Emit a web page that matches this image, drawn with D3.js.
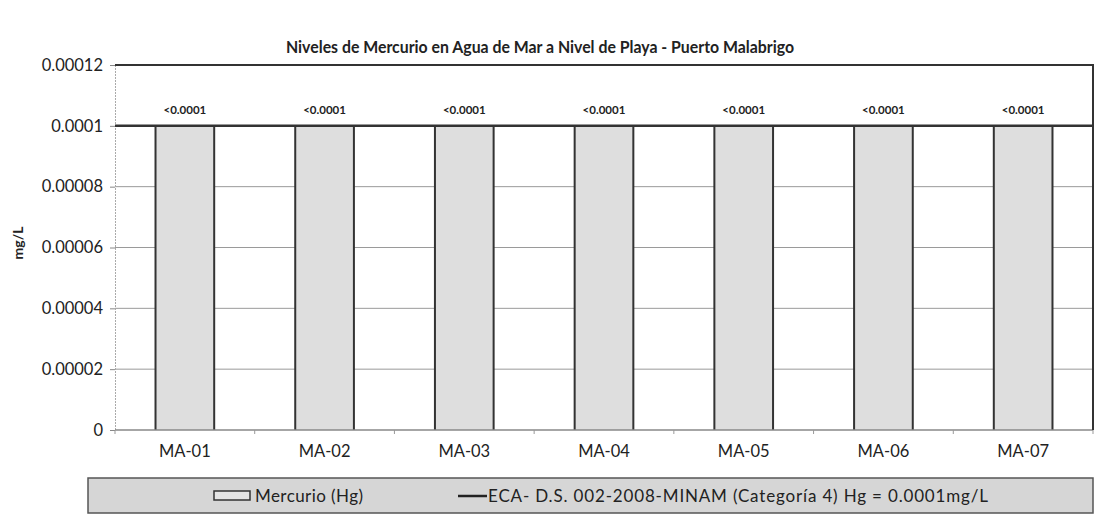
<!DOCTYPE html>
<html><head><meta charset="utf-8">
<script src="https://cdn.jsdelivr.net/npm/d3@7"></script>
<style>body{margin:0;background:#fff}svg{display:block}text{font-family:Lato,"Open Sans",sans-serif}</style>
</head><body><svg id="c" width="1098" height="515"></svg>
<script>
const categories = ["MA-01","MA-02","MA-03","MA-04","MA-05","MA-06","MA-07"];
const mercurio = [0.0001,0.0001,0.0001,0.0001,0.0001,0.0001,0.0001];
const valueLabels = ["<0.0001","<0.0001","<0.0001","<0.0001","<0.0001","<0.0001","<0.0001"];
const eca = [0.0001,0.0001,0.0001,0.0001,0.0001,0.0001,0.0001];
const yTicks = [0,0.00002,0.00004,0.00006,0.00008,0.0001,0.00012];
const yTickLabels = ["0","0.00002","0.00004","0.00006","0.00008","0.0001","0.00012"];
const title = "Niveles de Mercurio en Agua de Mar a Nivel de Playa - Puerto Malabrigo";
const seriesNames = ["Mercurio (Hg)","ECA- D.S. 002-2008-MINAM (Categoría 4) Hg = 0.0001mg/L"];

const svg = d3.select("#c");
const m = {l:115, r:1093, t:65, b:430};
const x = d3.scaleBand().domain(categories).range([m.l,m.r]).paddingInner(0.58).paddingOuter(0.29);
const y = d3.scaleLinear().domain([0,0.00012]).range([m.b,m.t]);

// gridlines
svg.append("g").selectAll("line").data(yTicks.slice(1,-1)).join("line")
  .attr("x1",m.l).attr("x2",m.r).attr("y1",d=>y(d)).attr("y2",d=>y(d))
  .attr("stroke","#9a9a9a").attr("stroke-width",1);

// bars
svg.append("g").selectAll("rect").data(mercurio).join("rect")
  .attr("x",(d,i)=>x(categories[i])).attr("width",x.bandwidth())
  .attr("y",d=>y(d)).attr("height",d=>y(0)-y(d))
  .attr("fill","#dedede");
svg.append("g").selectAll("path").data(mercurio).join("path")
  .attr("d",(d,i)=>{const x0=x(categories[i]),x1=x0+x.bandwidth();return `M${x0},${y(0)}V${y(d)}M${x1},${y(d)}V${y(0)}`;})
  .attr("stroke","#333").attr("stroke-width",2).attr("fill","none");

// axes
const yAxis = d3.axisLeft(y).tickValues(yTicks).tickFormat((d,i)=>yTickLabels[i]).tickSize(5);
const gy = svg.append("g").attr("transform",`translate(${m.l},0)`).call(yAxis);
gy.select(".domain").attr("stroke","#aaa").attr("stroke-dasharray","2,1");
gy.selectAll(".tick line").attr("stroke","#888");
gy.selectAll("text").attr("font-size",16.5).attr("fill","#222").attr("x",-12);

const xAxis = d3.axisBottom(x).tickSize(0);
const gx = svg.append("g").attr("transform",`translate(0,${m.b})`).call(xAxis);
gx.select(".domain").remove();
gx.selectAll("text").attr("font-size",16.5).attr("fill","#222").attr("dy","1.45em");
svg.append("line").attr("x1",m.l).attr("x2",m.r).attr("y1",m.b).attr("y2",m.b).attr("stroke","#888").attr("stroke-width",1.5);
svg.append("g").selectAll("line").data(d3.range(categories.length+1)).join("line")
  .attr("x1",i=>m.l+i*x.step()).attr("x2",i=>m.l+i*x.step()).attr("y1",m.b).attr("y2",m.b+4).attr("stroke","#999");

// top and right border
svg.append("path").attr("d",`M${m.l},${m.t}H${m.r}V${m.b}`).attr("stroke","#333").attr("stroke-width",2).attr("fill","none");

// ECA line
const line = d3.line().x((d,i)=>i===0?m.l:(i===eca.length-1?m.r:x(categories[i])+x.bandwidth()/2)).y(d=>y(d));
svg.append("path").datum(eca).attr("d",line).attr("stroke","#333").attr("stroke-width",2.5).attr("fill","none");

// value labels
svg.append("g").selectAll("text").data(mercurio).join("text")
  .attr("x",(d,i)=>x(categories[i])+x.bandwidth()/2).attr("y",d=>y(d)-12)
  .attr("text-anchor","middle").attr("font-size",11.5).attr("font-weight","bold").attr("fill","#222")
  .text((d,i)=>valueLabels[i]);

// title
svg.append("text").attr("x",540).attr("y",53).attr("text-anchor","middle")
  .attr("font-size",17).attr("font-weight","bold").attr("fill","#222")
  .attr("textLength",508).attr("lengthAdjust","spacingAndGlyphs").text(title);
// y label
svg.append("text").attr("transform","translate(23,243) rotate(-90)").attr("text-anchor","middle")
  .attr("font-size",14).attr("font-weight","bold").attr("fill","#222").text("mg/L");

// legend
const lg = svg.append("g");
lg.append("rect").attr("x",88).attr("y",478).attr("width",1005).attr("height",35).attr("fill","#d6d6d6")
  .attr("stroke","#555").attr("stroke-width",1.5);
lg.append("rect").attr("x",214).attr("y",491).attr("width",36).attr("height",9).attr("fill","#e4e4e4").attr("stroke","#333").attr("stroke-width",1.5);
lg.append("text").attr("x",255).attr("y",502).attr("font-size",17).attr("fill","#222")
  .attr("textLength",108).attr("lengthAdjust","spacing").text(seriesNames[0]);
lg.append("line").attr("x1",458).attr("x2",487).attr("y1",496).attr("y2",496).attr("stroke","#222").attr("stroke-width",2.5);
lg.append("text").attr("x",488).attr("y",502).attr("font-size",17).attr("fill","#222")
  .attr("textLength",500).attr("lengthAdjust","spacing").text(seriesNames[1]);
</script></body></html>
